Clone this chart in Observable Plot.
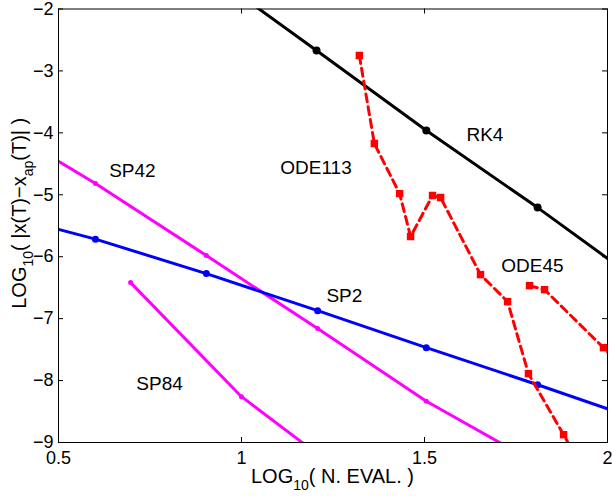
<!DOCTYPE html>
<html><head><meta charset="utf-8">
<script src="https://cdn.jsdelivr.net/npm/d3@7"></script>
<script src="https://cdn.jsdelivr.net/npm/@observablehq/plot@0.6"></script>
<style>body{margin:0;background:#fff} svg{display:block}</style>
</head><body><div id="chart"></div>
<script>
// Tick values
const xTicks = [0.5, 1, 1.5, 2];
const yTicks = [-9, -8, -7, -6, -5, -4, -3, -2];

// Series (log10 N. eval, log10 error)
const rk4X = [0.903, 1.205, 1.505, 1.809, 2.11];
const rk4Y = [-1.38, -2.670, -3.963, -5.207, -6.50];

const sp2X = [0.3, 0.601, 0.904, 1.208, 1.505, 1.809, 2.11];
const sp2Y = [-5.25, -5.716, -6.273, -6.871, -7.469, -8.067, -8.68];

const sp42X = [0.3, 0.601, 0.904, 1.208, 1.505, 1.81];
const sp42Y = [-3.75, -4.819, -5.982, -7.161, -8.333, -9.35];

const sp84X = [0.697, 1.0, 1.3];
const sp84Y = [-6.418, -8.260, -9.6];

const ode113X = [1.322, 1.363, 1.432, 1.462, 1.522, 1.544, 1.653, 1.727, 1.784, 1.880, 1.93];
const ode113Y = [-2.751, -4.173, -4.981, -5.675, -5.013, -5.045, -6.289, -6.725, -7.888, -8.874, -9.4];

const ode45X = [1.787, 1.828, 1.989, 2.06];
const ode45Y = [-6.467, -6.532, -7.469, -7.9];

// Labels
const labelText = ["RK4", "ODE113", "SP42", "SP2", "SP84", "ODE45"];
const labelX = [1.665, 1.2036, 0.702, 1.281, 0.776, 1.795];
const labelY = [-4.036, -4.561, -4.609, -6.628, -8.050, -6.144];

const W = 612, H = 496, mL = 58, mR = 5, mT = 8.5, mB = 54;
const innerW = W - mL - mR, innerH = H - mT - mB;
const FONT = "'Liberation Sans', Arial, Helvetica, sans-serif";

const pts = (xs, ys) => xs.map((x, i) => ({x, y: ys[i]}));
const labels = labelText.map((t, i) => ({t, x: labelX[i], y: labelY[i]}));
const fmt = d => (d < 0 ? "\u2212" : "") + String(Math.abs(d));

const solid = (data, color, r) => [
  Plot.line(data, {x: "x", y: "y", stroke: color, strokeWidth: 3, clip: true}),
  Plot.dot(data, {x: "x", y: "y", fill: color, r, clip: true})
];

const plot = Plot.plot({
  width: W, height: H,
  marginLeft: mL, marginRight: mR, marginTop: mT, marginBottom: mB,
  style: {fontFamily: FONT, background: "white", color: "black", overflow: "visible"},
  x: {domain: [0.5, 2]},
  y: {domain: [-9, -2]},
  marks: [
    Plot.axisX(xTicks, {tickSize: 0, tickPadding: 9, fontSize: 18, label: null, fill: "black", tickFormat: fmt}),
    Plot.axisY(yTicks, {tickSize: 0, tickPadding: 5, fontSize: 18, label: null, fill: "black", tickFormat: fmt}),
    Plot.tickX(xTicks, {x: d => d, insetTop: innerH - 5, stroke: "black"}),
    Plot.tickX(xTicks, {x: d => d, insetBottom: innerH - 5, stroke: "black"}),
    Plot.tickY(yTicks, {y: d => d, insetRight: innerW - 5, stroke: "black"}),
    Plot.tickY(yTicks, {y: d => d, insetLeft: innerW - 5, stroke: "black"}),
    ...solid(pts(sp84X, sp84Y), "#ff00ff", 2.5),
    ...solid(pts(sp42X, sp42Y), "#ff00ff", 2.5),
    ...solid(pts(sp2X, sp2Y), "#0000ff", 3.5),
    ...solid(pts(rk4X, rk4Y), "#000000", 4),
    Plot.line(pts(ode113X, ode113Y), {x: "x", y: "y", stroke: "#ff0000", strokeWidth: 3, strokeDasharray: "8,5", clip: true}),
    Plot.dot(pts(ode113X, ode113Y), {x: "x", y: "y", fill: "#ff0000", symbol: "square", r: 4.2, clip: true}),
    Plot.line(pts(ode45X, ode45Y), {x: "x", y: "y", stroke: "#ff0000", strokeWidth: 3, strokeDasharray: "8,5", clip: true}),
    Plot.dot(pts(ode45X, ode45Y), {x: "x", y: "y", fill: "#ff0000", symbol: "square", r: 4.2, clip: true}),
    Plot.text(labels, {x: "x", y: "y", text: "t", fontSize: 19, fill: "black", textAnchor: "middle"}),
    Plot.frame({stroke: "black", strokeWidth: 1})
  ]
});

const svg = d3.select(plot);
// x-axis title
const xl = svg.append("text")
  .attr("x", mL + innerW / 2).attr("y", H - 13)
  .attr("text-anchor", "middle").attr("font-size", 20).attr("fill", "black")
  .attr("font-family", FONT);
xl.append("tspan").text("LOG");
xl.append("tspan").attr("font-size", 14).attr("dy", 7).text("10");
xl.append("tspan").attr("dy", -7).text("( N. EVAL. )");

// y-axis title
const yl = svg.append("text")
  .attr("transform", `translate(26,${mT + innerH / 2 - 12}) rotate(-90)`)
  .attr("text-anchor", "middle").attr("font-size", 20).attr("fill", "black")
  .attr("font-family", FONT);
yl.append("tspan").text("LOG");
yl.append("tspan").attr("font-size", 14).attr("dy", 7).text("10");
yl.append("tspan").attr("dy", -7).text("( |x(T)\u2212x");
yl.append("tspan").attr("font-size", 14).attr("dy", 7).text("ap");
yl.append("tspan").attr("dy", -7).text("(T)| )");

document.getElementById("chart").appendChild(plot);
</script>
</body></html>
